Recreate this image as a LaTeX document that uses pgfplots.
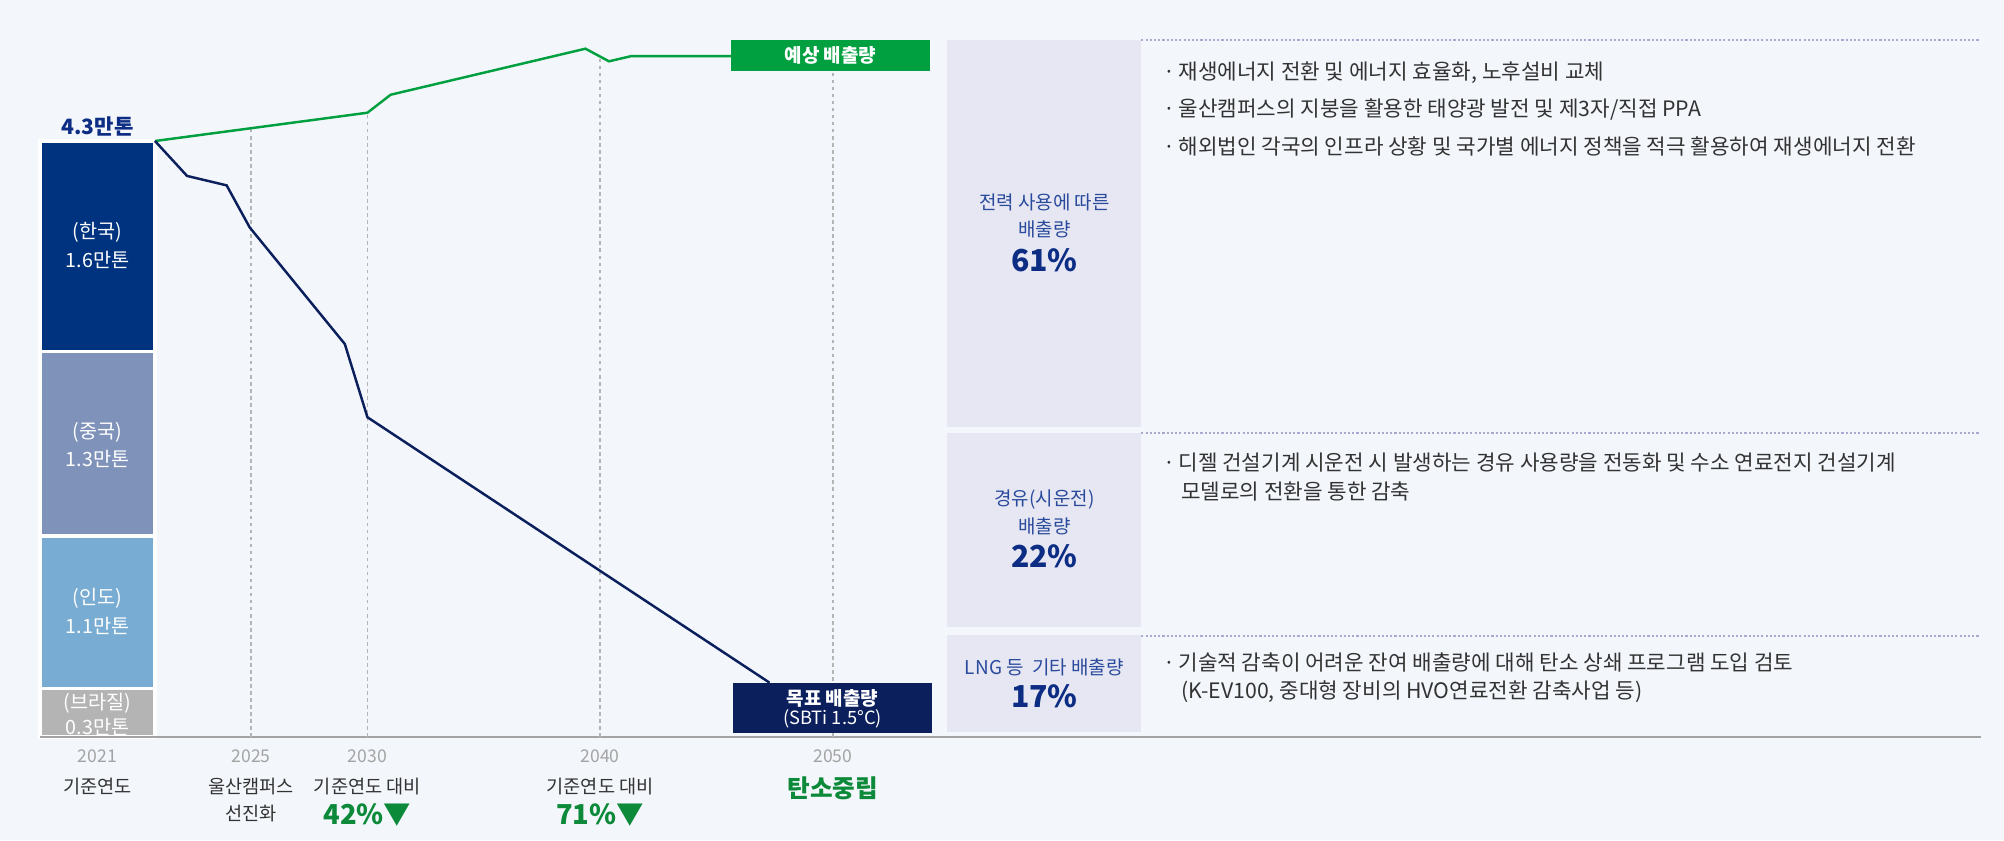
\documentclass[border=0pt]{standalone}
\usepackage{pgfplots}
\pgfplotsset{compat=1.18}
\usepackage{fontspec}
\setmainfont{Noto Sans CJK KR}

\definecolor{bg}{HTML}{F3F6FB}
\definecolor{korea}{HTML}{00337F}
\definecolor{china}{HTML}{7F92BA}
\definecolor{india}{HTML}{79ACD3}
\definecolor{brazil}{HTML}{B4B4B4}
\definecolor{plangreen}{HTML}{00A040}
\definecolor{targetnavy}{HTML}{0B1F5C}
\definecolor{txtgreen}{HTML}{0C8A3A}
\definecolor{tickgray}{HTML}{A3A3A3}
\definecolor{gridgray}{HTML}{B5B5B5}
\definecolor{panel}{HTML}{E6E7F3}
\definecolor{panelline}{HTML}{A8AAD0}
\definecolor{labelblue}{HTML}{2A4A9C}
\definecolor{pctblue}{HTML}{0C2D83}
\definecolor{bodytxt}{HTML}{333333}

\newcommand{\fs}[1]{\fontsize{#1}{#1}\selectfont}

% both axes share the same frame: 1 px of the reference = 0.01cm
\pgfplotsset{frame/.style={at={(0.40cm,-7.37cm)}, anchor=south west,
    scale only axis, width=19.41cm, height=7.17cm,
    xmin=2015.93, xmax=2099.34, ymin=0, ymax=5.173, clip=false}}

\begin{document}
\begin{tikzpicture}
\fill[bg] (0,0) rectangle (20.04cm,-8.40cm);

% stacked base-year bar (만톤)
\begin{axis}[frame, hide axis, ybar stacked, bar width=4.94, bar shift=0pt]
\addplot[fill=brazil, draw=white, line width=0.9pt] coordinates {(2018.4,0.35)};
\addplot[fill=india,  draw=white, line width=0.9pt] coordinates {(2018.4,1.10)};
\addplot[fill=china,  draw=white, line width=0.9pt] coordinates {(2018.4,1.33)};
\addplot[fill=korea,  draw=white, line width=0.9pt] coordinates {(2018.4,1.52)};
\end{axis}

% pathways
\begin{axis}[frame,
    axis y line=none, axis x line*=bottom,
    x axis line style={tickgray, line width=0.6pt},
    xtick={2018.4,2025,2030,2040,2050},
    xticklabels={2021,2025,2030,2040,2050},
    major tick length=0pt,
    xticklabel style={anchor=center, yshift=-0.197cm, font=\fs{5}, text=tickgray},
    /pgf/number format/assume math mode=true]

\draw[gridgray, line width=0.4pt, dash pattern=on 1pt off 1pt] (axis cs:2025,0) -- (axis cs:2025,4.384);
\draw[gridgray, line width=0.4pt, dash pattern=on 1pt off 1pt] (axis cs:2030,0) -- (axis cs:2030,4.504);
\draw[gridgray, line width=0.4pt, dash pattern=on 1pt off 1pt] (axis cs:2040,0) -- (axis cs:2040,4.909);
\draw[gridgray, line width=0.4pt, dash pattern=on 1pt off 1pt] (axis cs:2050,0) -- (axis cs:2050,4.81);

% 예상 배출량
\addplot[plangreen, line width=0.7pt, mark=none] coordinates {
    (2020.87,4.30) (2030,4.504) (2031.0,4.634) (2039.37,4.966)
    (2040.38,4.875) (2041.35,4.913) (2045.7,4.913)};
% 목표 배출량
\addplot[targetnavy, line width=0.7pt, mark=none] coordinates {
    (2020.87,4.30) (2022.25,4.048) (2023.95,3.98) (2024.94,3.677)
    (2029.03,2.835) (2030,2.307) (2047.28,0.392)};

\node[text=pctblue, font=\fs{6}\bfseries] at (axis cs:2018.4,4.408) {4.3만톤};
\begin{scope}[every node/.style={text=white, font=\fs{5.6}}]
\node at (axis cs:2018.4,3.639) {(한국)};
\node at (axis cs:2018.4,3.442) {1.6만톤};
\node at (axis cs:2018.4,2.197) {(중국)};
\node at (axis cs:2018.4,2.009) {1.3만톤};
\node at (axis cs:2018.4,0.998) {(인도)};
\node at (axis cs:2018.4,0.801) {1.1만톤};
\node at (axis cs:2018.4,0.245) {(브라질)};
\node at (axis cs:2018.4,0.071) {0.3만톤};
\end{scope}

\begin{scope}[every node/.style={text=bodytxt, font=\fs{5.3}}]
\node at (axis cs:2018.4,-0.3586) {기준연도};
\node at (axis cs:2025,-0.3586) {울산캠퍼스};
\node at (axis cs:2025,-0.551) {선진화};
\node at (axis cs:2030,-0.3586) {기준연도 대비};
\node at (axis cs:2040,-0.3586) {기준연도 대비};
\end{scope}
\node[text=txtgreen, font=\fs{7.8}\bfseries] at (axis cs:2030,-0.563) {42\%▼};
\node[text=txtgreen, font=\fs{7.8}\bfseries] at (axis cs:2040,-0.563) {71\%▼};
\node[text=txtgreen, font=\fs{7}\bfseries] at (axis cs:2050,-0.368) {탄소중립};
\end{axis}

% labels and the right-hand panel, in reference pixels
\begin{scope}[x=0.01cm, y=-0.01cm]
\fill[plangreen] (731,40) rectangle (931,70.7);
\node[text=white, font=\fs{5.4}\bfseries] at (831,55.4) {예상 배출량};
\fill[targetnavy] (733,683) rectangle (933,733);
\node[text=white, font=\fs{5.4}\bfseries] at (833,699) {목표 배출량};
\node[text=white, font=\fs{5.2}] at (833,719) {(SBTi 1.5°C)};

\fill[panel] (948,40) rectangle (1142,427);
\fill[panel] (948,433) rectangle (1142,627);
\fill[panel] (948,635) rectangle (1142,732);
\foreach \y in {40,433,636}
  \draw[panelline, line width=0.5pt, dash pattern=on 0.6pt off 0.6pt] (1142,\y) -- (1981,\y);

\begin{scope}[every node/.style={text=labelblue, font=\fs{5.4}}]
\node at (1045,203) {전력 사용에 따른};
\node at (1045,229) {배출량};
\node at (1045,500) {경유(시운전)};
\node at (1045,527) {배출량};
\node at (1045,668) {LNG 등\ \ 기타 배출량};
\end{scope}
\begin{scope}[every node/.style={text=pctblue, font=\fs{8.6}\bfseries}]
\node at (1045,260) {61\%};
\node at (1045,557) {22\%};
\node at (1045,697) {17\%};
\end{scope}

\begin{scope}[every node/.style={text=bodytxt, font=\fs{6.05}, anchor=west, inner sep=0pt}]
\node at (1163,73)  {·\,재생에너지 전환 및 에너지 효율화, 노후설비 교체};
\node at (1163,110) {·\,울산캠퍼스의 지붕을 활용한 태양광 발전 및 제3자/직접 PPA};
\node at (1163,147) {·\,해외법인 각국의 인프라 상황 및 국가별 에너지 정책을 적극 활용하여 재생에너지 전환};
\node at (1163,463) {·\,디젤 건설기계 시운전 시 발생하는 경유 사용량을 전동화 및 수소 연료전지 건설기계};
\node at (1181,492) {모델로의 전환을 통한 감축};
\node at (1163,663) {·\,기술적 감축이 어려운 잔여 배출량에 대해 탄소 상쇄 프로그램 도입 검토};
\node at (1181,692) {(K-EV100, 중대형 장비의 HVO연료전환 감축사업 등)};
\end{scope}
\end{scope}
\end{tikzpicture}
\end{document}
